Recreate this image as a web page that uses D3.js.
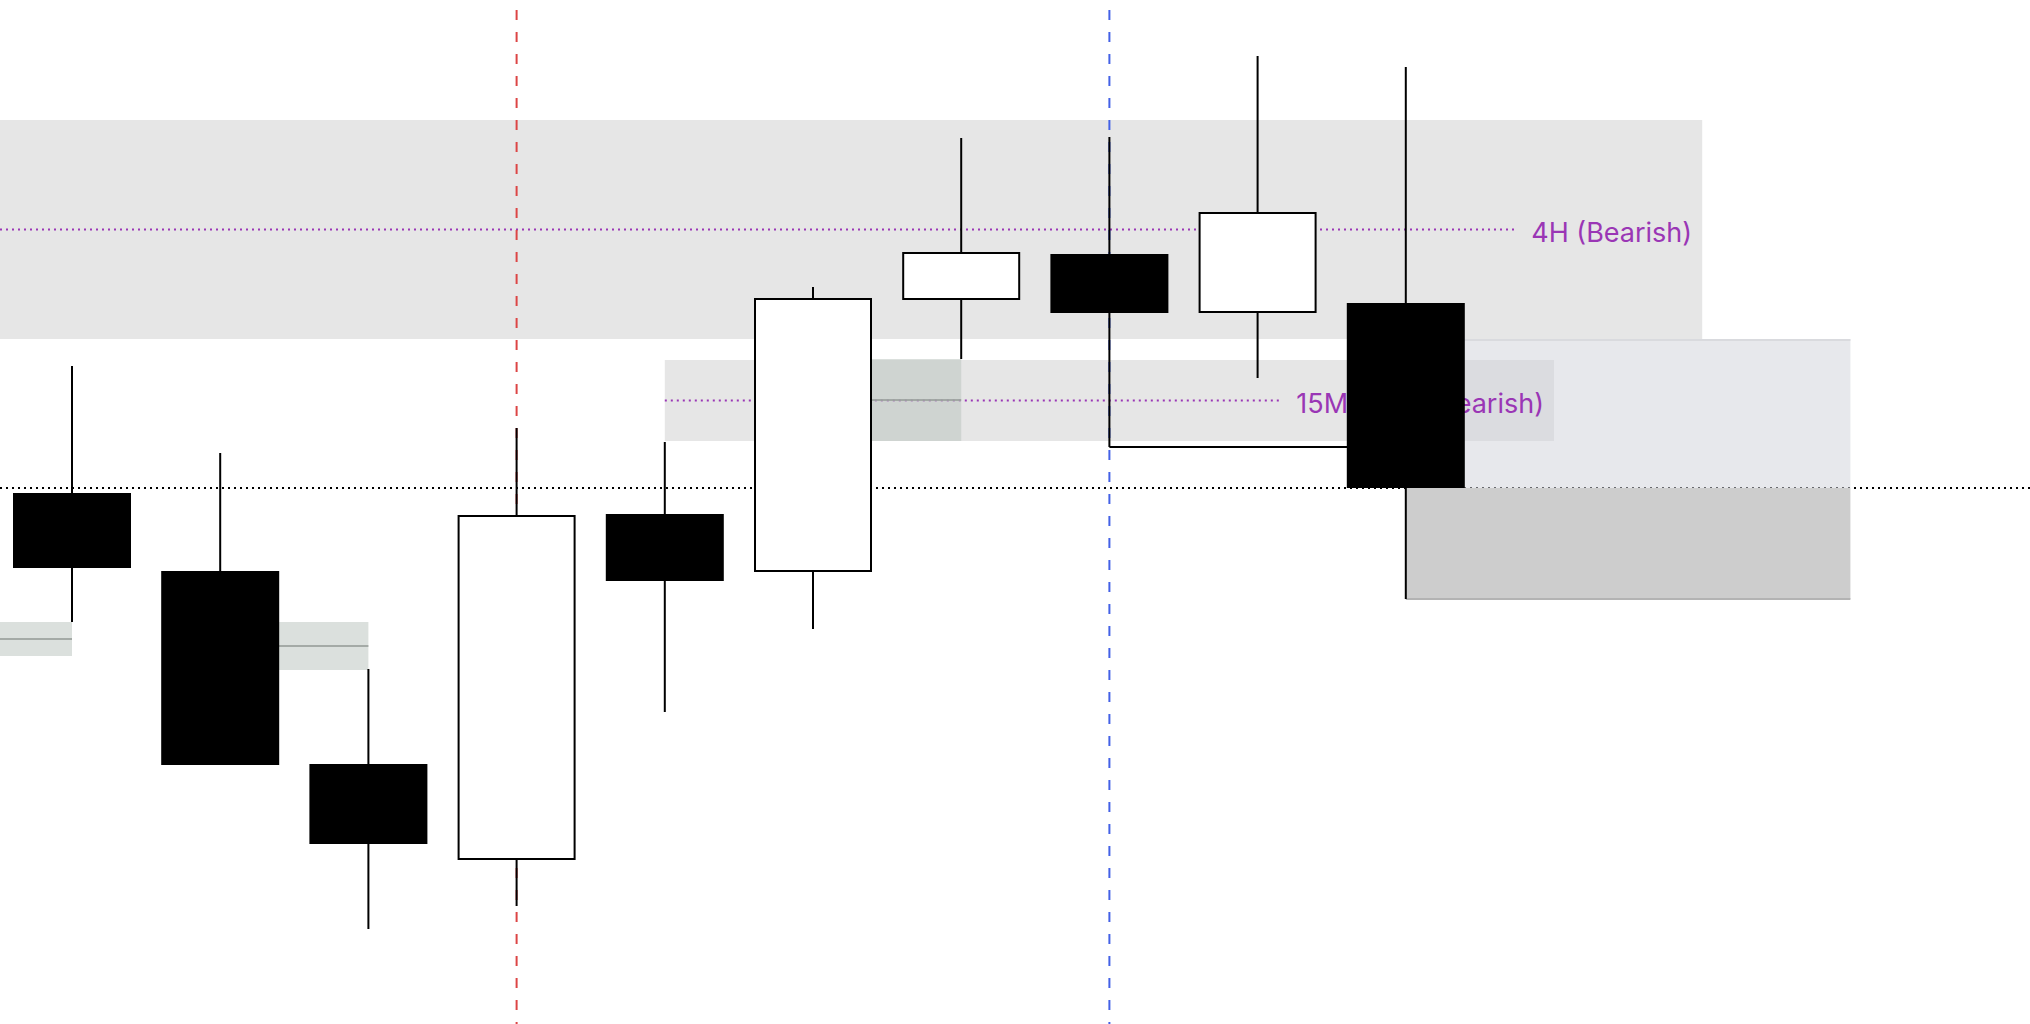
<!DOCTYPE html>
<html>
<head>
<meta charset="utf-8">
<script src="https://cdn.jsdelivr.net/npm/d3@7"></script>
<style>
	html, body { margin: 0; padding: 0; background: #ffffff; }
	svg { display: block; }
</style>
</head>
<body>
<div id="chart"></div>
<script>
'use strict';

// candles, left to right (price units)
const candleIdx = [0, 1, 2, 3, 4, 5, 6, 7, 8, 9];
const opens  = [53.1, 45.3, 26.0, 16.4, 51.0, 45.2, 72.4, 77.0, 71.1, 72.1];
const highs  = [65.8, 57.1, 35.5, 59.6, 58.2, 73.7, 88.6, 88.7, 96.8, 95.7];
const lows   = [40.2, 25.9,  9.5, 11.8, 31.2, 39.5, 66.5, 57.7, 64.6, 42.5];
const closes = [45.6, 25.9, 18.0, 50.9, 44.3, 72.6, 77.2, 71.1, 81.2, 53.6];

// higher timeframe zones
const zoneLabels  = ['4H (Bearish)', '15M Zone (Bearish)'];
const zoneTops    = [90.4, 66.4];
const zoneBottoms = [68.5, 58.3];
const zoneFrom    = [-1, 4];
const zoneTo      = [11, 10];

// fair value gaps (box runs from index to index + 1)
const gapFrom    = [-1, 1, 5];
const gapTops    = [40.2, 40.2, 66.5];
const gapBottoms = [36.8, 35.4, 58.3];

// vertical time markers
const markerIdx = [3, 7];

// projection boxes after the last candle
const projFrom    = [9, 9];
const projTo      = [12, 12];
const projTops    = [68.5, 53.6];
const projBottoms = [53.6, 42.5];

// swept low and close level
const sweepFrom  = 7;
const sweepTo    = 9;
const sweepPrice = 57.7;
const levelPrice = 53.6;

class candleChart {

	constructor(elementId, options) {
		this.options = {
			'width': options.width,
			'height': options.height,
			'bodyWidth': 116,
			'purple': '#9a36b5',
			'font': 'Inter, Roboto, "DejaVu Sans", sans-serif'
		};

		// one candle step is ~148px, price unit is 10px
		this.x = d3.scaleLinear()
			.domain([0, 9])
			.range([72, 1405.8]);
		this.y = d3.scaleLinear()
			.domain([0, 102.4])
			.range([this.options.height, 0]);

		this.svgElem = d3.select('#' + elementId).append('svg')
			.attr('width', this.options.width)
			.attr('height', this.options.height);

		// layers, bottom to top
		this.layers = {};
		for (let name of ['zones', 'level', 'proj', 'gaps', 'labels', 'markers', 'candles'])
			this.layers[name] = this.svgElem.append('g').attr('class', name);

		this.drawZones();
		this.drawLevel();
		this.drawProjection();
		this.drawGaps();
		this.drawMarkers();
		this.drawSweep();
		this.drawCandles();
	}

	drawZones() {
		const zones = zoneLabels.map((label, i) => ({
			label: label, top: zoneTops[i], bottom: zoneBottoms[i], from: zoneFrom[i], to: zoneTo[i]
		}));

		this.layers.zones.selectAll('rect.zone')
			.data(zones)
			.enter().append('rect')
			.attr('class', 'zone')
			.attr('x', d => this.x(d.from))
			.attr('y', d => this.y(d.top))
			.attr('width', d => this.x(d.to) - this.x(d.from))
			.attr('height', d => this.y(d.bottom) - this.y(d.top))
			.attr('fill', '#e6e6e6');

		for (let zone of zones)
		{
			let mid = this.y((zone.top + zone.bottom) / 2);
			let label = this.layers.labels.append('text')
				.attr('x', this.x(zone.to) - 10)
				.attr('y', mid + 12)
				.attr('text-anchor', 'end')
				.attr('font-family', this.options.font)
				.attr('font-size', 27)
				.attr('fill', this.options.purple)
				.text(zone.label);

			let textStart = this.x(zone.to) - 10 - label.node().getComputedTextLength();

			this.layers.zones.append('line')
				.attr('x1', Math.max(this.x(zone.from), 0))
				.attr('x2', textStart - 14)
				.attr('y1', mid)
				.attr('y2', mid)
				.attr('stroke', this.options.purple)
				.attr('stroke-width', 2)
				.attr('stroke-dasharray', '2,4');
		}
	}

	drawLevel() {
		this.layers.level.append('line')
			.attr('x1', 0)
			.attr('x2', this.options.width)
			.attr('y1', this.y(levelPrice))
			.attr('y2', this.y(levelPrice))
			.attr('stroke', '#000000')
			.attr('stroke-width', 2)
			.attr('stroke-dasharray', '2,4');
	}

	drawProjection() {
		let fills = ['rgb(207,209,217)', '#cdcdcd'];
		let opacity = [0.5, 1];

		for (let i = 0; i < projFrom.length; i++)
		{
			let x0 = this.x(projFrom[i]);
			let x1 = this.x(projTo[i]);
			let y0 = this.y(projTops[i]);
			let y1 = this.y(projBottoms[i]);

			this.layers.proj.append('rect')
				.attr('x', x0)
				.attr('y', y0)
				.attr('width', x1 - x0)
				.attr('height', y1 - y0)
				.attr('fill', fills[i])
				.attr('fill-opacity', opacity[i]);
		}

		// borders
		this.layers.proj.append('line')
			.attr('x1', this.x(projFrom[0])).attr('x2', this.x(projTo[0]))
			.attr('y1', this.y(projTops[0]) + 1).attr('y2', this.y(projTops[0]) + 1)
			.attr('stroke', '#d9dade')
			.attr('stroke-width', 2);
		this.layers.proj.append('line')
			.attr('x1', this.x(projFrom[1])).attr('x2', this.x(projTo[1]))
			.attr('y1', this.y(projBottoms[1])).attr('y2', this.y(projBottoms[1]))
			.attr('stroke', '#b3b3b3')
			.attr('stroke-width', 2);
	}

	drawGaps() {
		for (let i = 0; i < gapFrom.length; i++)
		{
			let x0 = this.x(gapFrom[i]);
			let x1 = this.x(gapFrom[i] + 1);
			let y0 = this.y(gapTops[i]);
			let y1 = this.y(gapBottoms[i]);
			let mid = this.y((gapTops[i] + gapBottoms[i]) / 2);

			this.layers.gaps.append('rect')
				.attr('x', x0)
				.attr('y', y0)
				.attr('width', x1 - x0)
				.attr('height', y1 - y0)
				.attr('fill', 'rgb(186,195,190)')
				.attr('fill-opacity', 0.52);

			this.layers.gaps.append('line')
				.attr('x1', x0).attr('x2', x1)
				.attr('y1', mid).attr('y2', mid)
				.attr('stroke', '#9aa09c')
				.attr('stroke-opacity', 0.85)
				.attr('stroke-width', 2);
		}
	}

	drawMarkers() {
		let colors = ['#dc4545', '#4361e6'];

		markerIdx.forEach((idx, i) => {
			this.layers.markers.append('line')
				.attr('x1', this.x(idx))
				.attr('x2', this.x(idx))
				.attr('y1', 10)
				.attr('y2', this.options.height)
				.attr('stroke', colors[i])
				.attr('stroke-width', 2)
				.attr('stroke-dasharray', '10,12');
		});
	}

	drawSweep() {
		this.layers.markers.append('line')
			.attr('x1', this.x(sweepFrom))
			.attr('x2', this.x(sweepTo))
			.attr('y1', this.y(sweepPrice))
			.attr('y2', this.y(sweepPrice))
			.attr('stroke', '#000000')
			.attr('stroke-width', 2);
	}

	drawCandles() {
		const candles = candleIdx.map(i => ({
			idx: i, open: opens[i], high: highs[i], low: lows[i], close: closes[i]
		}));
		let bw = this.options.bodyWidth;

		let group = this.layers.candles.selectAll('g.candle')
			.data(candles)
			.enter().append('g')
			.attr('class', 'candle');

		group.append('line')
			.attr('x1', d => this.x(d.idx))
			.attr('x2', d => this.x(d.idx))
			.attr('y1', d => this.y(d.high))
			.attr('y2', d => this.y(d.low))
			.attr('stroke', '#000000')
			.attr('stroke-width', 2);

		group.append('rect')
			.attr('x', d => this.x(d.idx) - bw / 2)
			.attr('y', d => this.y(Math.max(d.open, d.close)) + 1)
			.attr('width', bw)
			.attr('height', d => Math.abs(this.y(d.open) - this.y(d.close)) - 2)
			.attr('fill', d => (d.close >= d.open ? '#ffffff' : '#000000'))
			.attr('stroke', '#000000')
			.attr('stroke-width', 2);
	}
}

new candleChart('chart', { width: 2030, height: 1024 });
</script>
</body>
</html>
